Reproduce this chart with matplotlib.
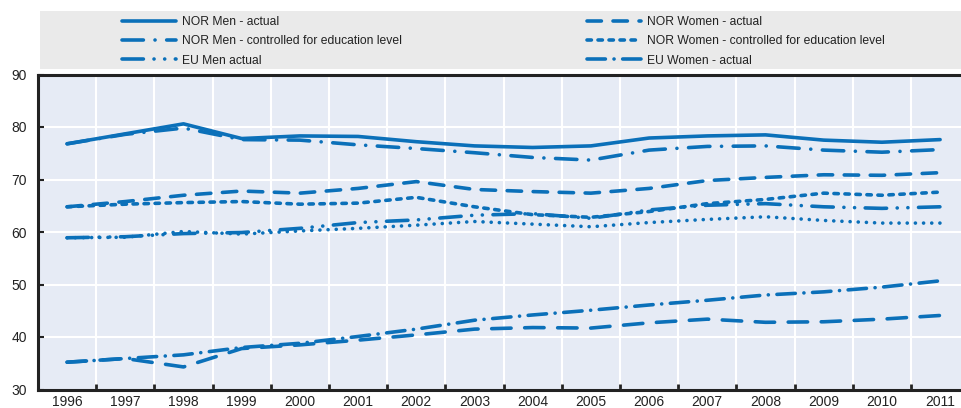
import matplotlib
matplotlib.use('Agg')
import matplotlib.pyplot as plt
from matplotlib.patches import Rectangle
from matplotlib.ticker import MultipleLocator, FixedLocator, NullFormatter

plt.rcParams['font.family'] = ['Liberation Sans Narrow', 'Liberation Sans', 'DejaVu Sans']
plt.rcParams['lines.scale_dashes'] = False

# ---- data
years = list(range(1996, 2012))

nor_men_actual = [76.8, 78.7, 80.6, 77.8, 78.3, 78.2, 77.2, 76.4, 76.1, 76.4, 77.9, 78.3, 78.5, 77.5, 77.1, 77.6]
nor_men_ctrl = [76.8, 78.6, 79.8, 77.6, 77.5, 76.6, 75.9, 75.1, 74.2, 73.7, 75.6, 76.3, 76.4, 75.6, 75.2, 75.7]
nor_women_actual = [64.8, 65.8, 67.0, 67.8, 67.4, 68.3, 69.6, 68.1, 67.7, 67.4, 68.3, 69.8, 70.4, 70.9, 70.8, 71.3]
nor_women_ctrl = [64.8, 65.3, 65.6, 65.8, 65.3, 65.5, 66.6, 64.8, 63.3, 62.8, 63.9, 65.4, 66.2, 67.4, 67.0, 67.6]
eu_men_actual = [58.9, 59.1, 59.7, 59.9, 60.7, 61.8, 62.3, 63.2, 63.5, 62.6, 64.2, 65.1, 65.4, 64.8, 64.5, 64.8]
eu_men_other = [58.9, 59.0, 60.1, 59.6, 60.2, 60.7, 61.3, 62.0, 61.5, 61.0, 61.8, 62.4, 62.9, 62.2, 61.7, 61.7]
eu_women_actual = [35.2, 35.9, 36.6, 38.0, 38.8, 40.1, 41.5, 43.2, 44.2, 45.1, 46.1, 47.0, 48.0, 48.6, 49.5, 50.7]
eu_women_other = [35.2, 35.9, 34.3, 37.8, 38.5, 39.4, 40.4, 41.5, 41.8, 41.7, 42.7, 43.4, 42.8, 42.9, 43.4, 44.1]

labels = ['NOR Men - actual', 'NOR Men - controlled for education level', 'EU Men actual',
          'NOR Women - actual', 'NOR Women - controlled for education level', 'EU Women - actual']

blue = '#0B70B9'
LW_PX = 3.6


def dash(*px):
    # dash pattern given in pixels, corrected for round caps
    out = []
    for i, p in enumerate(px):
        if i % 2 == 0:
            out.append(max(0.05, (p - LW_PX) / 1.389))
        else:
            out.append((p + LW_PX) / 1.389)
    return (0, out)


fig = plt.figure(figsize=(9.62, 4.08), dpi=100)
ax = fig.add_axes([38 / 962, 18.5 / 408, 924 / 962, 315 / 408])
ax.set_facecolor('#E6EBF5')

kw = dict(color=blue, lw=LW_PX / 1.389, solid_capstyle='round', dash_capstyle='round')
h1, = ax.plot(years, nor_men_actual, linestyle='-', **kw)
h2, = ax.plot(years, nor_men_ctrl, linestyle=dash(25, 8, 3, 8), **kw)
h4, = ax.plot(years, nor_women_actual, linestyle=dash(18, 8), **kw)
h5, = ax.plot(years, nor_women_ctrl, linestyle=dash(8, 3), **kw)
h3, = ax.plot(years, eu_men_actual, linestyle=dash(25, 7, 3, 7, 3, 7), **kw)
ax.plot(years, eu_men_other, linestyle=dash(3, 4.5), **kw)
h6, = ax.plot(years, eu_women_actual, linestyle=dash(22, 5, 3, 5), **kw)
ax.plot(years, eu_women_other, linestyle=dash(23, 10), **kw)

ax.set_xlim(1995.5, 1995.5 + 924 / 58.2)
ax.set_ylim(30, 90)
ax.yaxis.set_major_locator(MultipleLocator(10))
ax.xaxis.set_major_locator(FixedLocator([y + 0.5 for y in years[:-1]] + [1995.5]))
ax.xaxis.set_major_formatter(NullFormatter())
ax.xaxis.set_minor_locator(FixedLocator(years))
ax.set_xticklabels([str(y) for y in years], minor=True)
ax.tick_params(axis='x', which='major', direction='in', length=4, width=2, color='#222222')
ax.tick_params(axis='x', which='minor', length=0, pad=4, labelsize=10, labelcolor='#222222')
ax.tick_params(axis='y', direction='in', length=4, width=1.5, color='#222222', pad=8,
               labelsize=10, labelcolor='#222222')
ax.grid(True, which='major', color='white', lw=1.5)
ax.set_axisbelow(True)
for s in ['left', 'bottom', 'top']:
    ax.spines[s].set_color('#222222')
    ax.spines[s].set_linewidth(2.2)
ax.spines['right'].set_visible(False)

# legend band
fig.patches.append(Rectangle((40 / 962, (408 - 69) / 408), 922 / 962, 58 / 408,
                             transform=fig.transFigure, facecolor='#EAEAEA', edgecolor='none', zorder=0))
leg_kw = dict(loc='upper left', frameon=False, handlelength=4.5, handletextpad=0.45,
              labelspacing=0.6, borderpad=0, borderaxespad=0,
              prop={'family': ['Liberation Sans', 'DejaVu Sans'], 'size': 8.7},
              labelcolor='#222222')
fig.legend([h1, h2, h3], labels[:3], bbox_to_anchor=(122 / 962, (408 - 16) / 408), **leg_kw)
fig.legend([h4, h5, h6], labels[3:], bbox_to_anchor=(587 / 962, (408 - 16) / 408), **leg_kw)

fig.savefig('out.png', dpi=100)
